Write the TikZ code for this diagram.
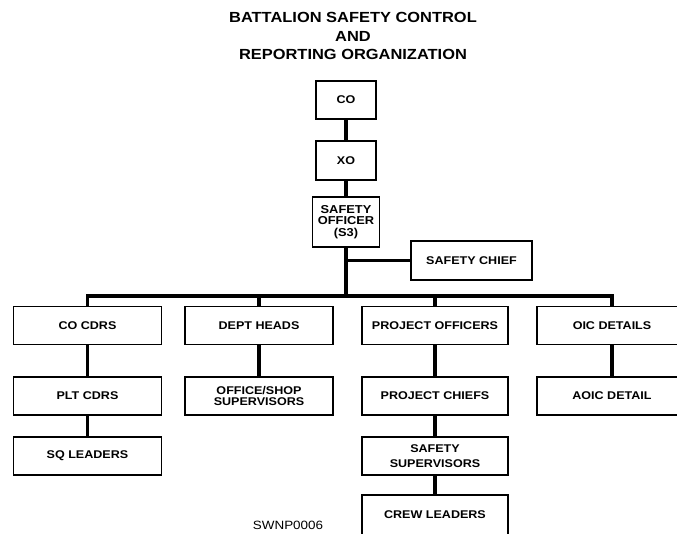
\documentclass[tikz,border=0pt]{standalone}
\usepackage{fontspec}
\setmainfont{Liberation Sans}[FakeStretch=1.12]
\usepackage{tikz}
\usetikzlibrary{positioning}
\def\RowA{325.5}
\def\RowB{396}
\def\RowC{456}
\def\BusY{296}
\def\ColA{87.5}
\def\ColB{259}
\def\ColC{435}
\def\ColD{612}

\begin{document}
\begin{tikzpicture}[x=0.75pt,y=-0.75pt,
		unit/.style={draw,line width=1.3pt,fill=white,inner sep=0pt,align=center,
			minimum width=111pt,minimum height=28.5pt,
			font=\bfseries\fontsize{8.4}{9.6}\selectfont},
		link/.style={line width=2.6pt}]
			\clip (0,0) rectangle (677,533);
			\fill[white] (0,0) rectangle (677,533);
			% title
			\node[align=center,font=\bfseries\fontsize{11}{13.9}\selectfont] (title) at (353,36) {BATTALION SAFETY CONTROL\\AND\\REPORTING ORGANIZATION};
			% command chain
			\node[unit,minimum width=45pt] (co) at (346,100) {CO};
			\node[unit,minimum width=45pt,minimum height=29pt] (xo) at (346,160.5) {XO};
			\node[unit,minimum width=50.25pt,minimum height=37.5pt,font=\bfseries\fontsize{8.6}{8.6}\selectfont] (so) at (346,222) {SAFETY\\OFFICER\\(S3)};
			\node[unit,minimum width=90.75pt,minimum height=29.25pt] (sc) at (471.5,260.5) {SAFETY CHIEF};
			% 
			\coordinate (bus) at (346,\BusY);
			% first row
			\node[unit] (cocdrs) at (\ColA,\RowA) {CO CDRS};
			\node[unit] (dept) at (\ColB,\RowA) {DEPT HEADS};
			\node[unit,minimum width=109.5pt] (proj) at (\ColC,\RowA) {PROJECT OFFICERS};
			\node[unit,minimum width=112.5pt] (oic) at (\ColD,\RowA) {OIC DETAILS};
			% second row
			\node[unit] (pltcdrs) at (\ColA,\RowB) {PLT CDRS};
			\node[unit,font=\bfseries\fontsize{8.4}{7.8}\selectfont] (office) at (\ColB,\RowB) {OFFICE/SHOP\\SUPERVISORS};
			\node[unit,minimum width=109.5pt] (projchiefs) at (\ColC,\RowB) {PROJECT CHIEFS};
			\node[unit,minimum width=112.5pt] (aoic) at (\ColD,\RowB) {AOIC DETAIL};
			% third row
			\node[unit] (sqleaders) at (\ColA,\RowC) {SQ LEADERS};
			\node[unit,minimum width=109.5pt,font=\bfseries\fontsize{8.4}{11}\selectfont] (safetysup) at (\ColC,\RowC) {SAFETY\\SUPERVISORS};
			\node[unit,minimum width=109.5pt,minimum height=30pt] (crew) at (\ColC,515) {CREW LEADERS};
			% 
			\node[font=\fontsize{9}{9}\selectfont] (fig) at (288,525) {SWNP0006};
			% connectors
			\draw[link] (co) -- (xo);
			\draw[link] (xo) -- (so);
			\draw[link] (so.south) -- (bus);
			\draw[link] (sc.west) -- (sc.west -| so.south);
			\draw[link] (cocdrs.north) |- (bus) -| (oic.north);
			\draw[link] (dept.north) -- (dept.north |- bus);
			\draw[link] (proj.north) -- (proj.north |- bus);
			\draw[link] (cocdrs) -- (pltcdrs) -- (sqleaders);
			\draw[link] (dept) -- (office);
			\draw[link] (proj) -- (projchiefs) -- (safetysup) -- (crew);
			\draw[link] (oic) -- (aoic);
\end{tikzpicture}
\end{document}
